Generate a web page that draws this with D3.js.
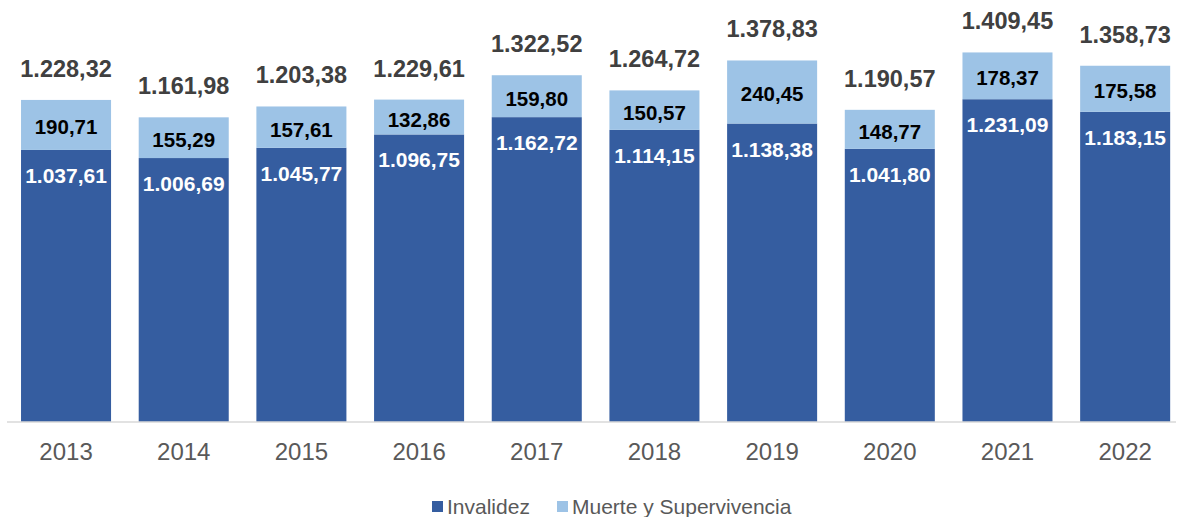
<!DOCTYPE html>
<html>
<head>
<meta charset="utf-8">
<script src="https://cdn.jsdelivr.net/npm/d3@7"></script>
<style>
  body { margin: 0; background: #fff; font-family: "Liberation Sans", Arial, sans-serif; }
</style>
</head>
<body>
<div id="chart"></div>
<script>
const years = ["2013", "2014", "2015", "2016", "2017", "2018", "2019", "2020", "2021", "2022"];
const invalidez = [1037.61, 1006.69, 1045.77, 1096.75, 1162.72, 1114.15, 1138.38, 1041.80, 1231.09, 1183.15];
const muerte = [190.71, 155.29, 157.61, 132.86, 159.80, 150.57, 240.45, 148.77, 178.37, 175.58];
const totals = [1228.32, 1161.98, 1203.38, 1229.61, 1322.52, 1264.72, 1378.83, 1190.57, 1409.45, 1358.73];
const seriesNames = ["Invalidez", "Muerte y Supervivencia"];

const width = 1178, height = 517;
const baseY = 422;

const fmt = v => {
  const s = v.toFixed(2).split(".");
  return s[0].replace(/\B(?=(\d{3})+(?!\d))/g, ".") + "," + s[1];
};

const color = d3.scaleOrdinal()
  .domain(seriesNames)
  .range(["#355DA0", "#9DC3E6"]);

const rows = years.map((y, i) => ({ year: y, Invalidez: invalidez[i], "Muerte y Supervivencia": muerte[i], total: totals[i] }));
const stacked = d3.stack().keys(seriesNames)(rows);

const x = d3.scaleBand()
  .domain(years)
  .range([7.2, 1184])
  .paddingInner(0.235)
  .paddingOuter(0.1175);

const y = d3.scaleLinear()
  .domain([0, 1600])
  .range([baseY, baseY - 1600 * 0.2622]);

const svg = d3.select("#chart").append("svg")
  .attr("width", width)
  .attr("height", height);

// Bars
svg.append("g")
  .selectAll("g")
  .data(stacked)
  .join("g")
  .attr("fill", d => color(d.key))
  .selectAll("rect")
  .data(d => d)
  .join("rect")
  .attr("x", d => x(d.data.year))
  .attr("y", d => y(d[1]))
  .attr("width", x.bandwidth())
  .attr("height", d => y(d[0]) - y(d[1]));

// Axis
const xAxis = svg.append("g")
  .attr("transform", `translate(0,${baseY})`)
  .call(d3.axisBottom(x).tickSize(0));
xAxis.select(".domain").attr("stroke", "#d9d9d9").attr("stroke-width", 1.5).attr("d", "M7,0H1176");
xAxis.selectAll("text")
  .attr("y", 38)
  .attr("dy", null)
  .attr("fill", "#595959")
  .style("font-size", "24px")
  .style("font-family", "'Liberation Sans', Arial, sans-serif");

// Labels: invalidez (white, inside end)
svg.append("g")
  .selectAll("text")
  .data(stacked[0])
  .join("text")
  .attr("x", d => x(d.data.year) + x.bandwidth() / 2)
  .attr("y", d => y(d[1]) + 33)
  .attr("text-anchor", "middle")
  .attr("fill", "#fff")
  .style("font-size", "21px")
  .style("font-weight", "bold")
  .text(d => fmt(d.data.Invalidez));

// Labels: muerte (black, centered)
svg.append("g")
  .selectAll("text")
  .data(stacked[1])
  .join("text")
  .attr("x", d => x(d.data.year) + x.bandwidth() / 2)
  .attr("y", d => (y(d[0]) + y(d[1])) / 2 + 9.5)
  .attr("text-anchor", "middle")
  .attr("fill", "#000")
  .style("font-size", "20.5px")
  .style("font-weight", "bold")
  .text(d => fmt(d.data["Muerte y Supervivencia"]));

// Totals
svg.append("g")
  .selectAll("text")
  .data(rows)
  .join("text")
  .attr("x", d => x(d.year) + x.bandwidth() / 2)
  .attr("y", d => y(d.total) - 23)
  .attr("text-anchor", "middle")
  .attr("fill", "#404040")
  .style("font-size", "23.5px")
  .style("font-weight", "bold")
  .text(d => fmt(d.total));

// Legend
const legendPos = [432, 557];
const legend = svg.append("g");
seriesNames.forEach((name, i) => {
  const g = legend.append("g").attr("transform", `translate(${legendPos[i]},501)`);
  g.append("rect").attr("width", 11).attr("height", 11).attr("fill", color(name));
  g.append("text")
    .attr("x", 15)
    .attr("y", 12.5)
    .attr("fill", "#595959")
    .style("font-size", "21px")
    .text(name);
});
</script>
</body>
</html>
